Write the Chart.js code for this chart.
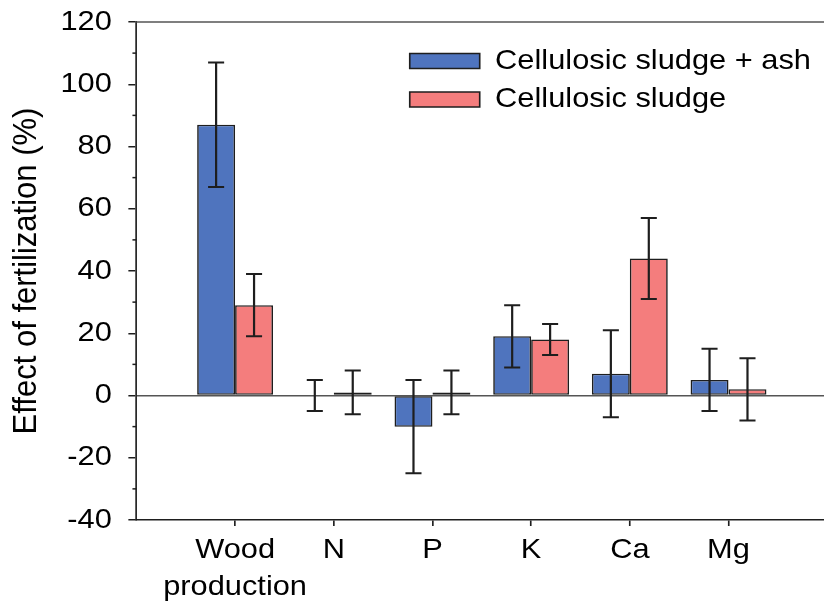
<!DOCTYPE html>
<html>
<head>
<meta charset="utf-8">
<script src="https://cdn.jsdelivr.net/npm/chart.js@4.4.1/dist/chart.umd.min.js"></script>
<style>
  html, body { margin: 0; padding: 0; background: #fff; overflow: hidden; }
  canvas { display: block; }
</style>
</head>
<body>
<canvas id="fertChart" width="824" height="603"></canvas>
<script>
// Response of wood production and foliar nutrients to fertilization
const categories = [['Wood', 'production'], 'N', 'P', 'K', 'Ca', 'Mg'];
const seriesNames = ['Cellulosic sludge + ash', 'Cellulosic sludge'];
const sludgeAsh = [87, 0, -10, 19, 7, 5];
const sludgeAshErr = [20, 5, 15, 10, 14, 10];
const sludge = [29, 1, 1, 18, 44, 2];
const sludgeErr = [10, 7, 7, 5, 13, 10];
const yTicks = [-40, -20, 0, 20, 40, 60, 80, 100, 120];

const SX = 1.1;        // lettering is set wide, so the drawing is stretched sideways
const CAP = 7.3;       // half width of the error bar caps
const INK = '#1e1e1e';

// one empty slot each side so the groups sit a full step in from the axes
const pad = arr => [null, ...arr, null];
const xLabels = ['', ...categories, ''];

Chart.defaults.font.family = '"Liberation Sans", Arial, sans-serif';
Chart.defaults.color = '#000';

const widen = {
  id: 'widen',
  beforeDraw(chart) { chart.ctx.save(); chart.ctx.scale(SX, 1); },
  afterDraw(chart) { chart.ctx.restore(); }
};

// park the legend in the upper right of the plot
const legendSpot = {
  id: 'legendSpot',
  afterLayout(chart) {
    chart.legend.left = 362;
    chart.legend.top = 36.5;
  }
};

// top frame line plus the short unlabelled ticks on the y axis
const frame = {
  id: 'frame',
  beforeDatasetsDraw(chart) {
    const { ctx, chartArea: a, scales: { y } } = chart;
    ctx.save();
    ctx.strokeStyle = '#555';
    ctx.lineWidth = 1.5;
    ctx.beginPath();
    ctx.moveTo(a.left, a.top);
    ctx.lineTo(a.right, a.top);
    ctx.stroke();
    ctx.strokeStyle = INK;
    for (let v = y.min + 10; v < y.max; v += 20) {
      const py = y.getPixelForValue(v);
      ctx.beginPath();
      ctx.moveTo(a.left - 3.6, py);
      ctx.lineTo(a.left, py);
      ctx.stroke();
    }
    ctx.restore();
  }
};

const errorBars = {
  id: 'errorBars',
  afterDatasetsDraw(chart) {
    const { ctx, scales: { y } } = chart;
    ctx.save();
    ctx.strokeStyle = INK;
    ctx.lineWidth = 2;
    chart.data.datasets.forEach((ds, di) => {
      chart.getDatasetMeta(di).data.forEach((bar, i) => {
        const v = ds.data[i];
        if (v == null) return;
        const hi = y.getPixelForValue(v + ds.errors[i]);
        const lo = y.getPixelForValue(v - ds.errors[i]);
        ctx.beginPath();
        ctx.moveTo(bar.x, hi); ctx.lineTo(bar.x, lo);
        ctx.moveTo(bar.x - CAP, hi); ctx.lineTo(bar.x + CAP, hi);
        ctx.moveTo(bar.x - CAP, lo); ctx.lineTo(bar.x + CAP, lo);
        ctx.stroke();
      });
    });
    ctx.restore();
  }
};

const barStyle = {
  borderColor: INK,
  borderWidth: 1.5,
  borderSkipped: false,
  categoryPercentage: 0.769,
  barPercentage: 1
};

new Chart(document.getElementById('fertChart'), {
  type: 'bar',
  data: {
    labels: xLabels,
    datasets: [
      { label: seriesNames[0], data: pad(sludgeAsh), errors: pad(sludgeAshErr), backgroundColor: '#4f74be', ...barStyle },
      { label: seriesNames[1], data: pad(sludge), errors: pad(sludgeErr), backgroundColor: '#f47d7d', ...barStyle }
    ]
  },
  options: {
    responsive: false,
    animation: false,
    devicePixelRatio: 1,
    layout: { autoPadding: false, padding: { top: 22, right: 72, bottom: 0, left: 0 } },
    scales: {
      x: {
        offset: false,
        afterFit(s) { s.height = 83; },
        grid: {
          offset: false,
          drawOnChartArea: false,
          tickLength: 6,
          tickWidth: 1.5,
          tickColor: c => (c.tick && c.tick.label === '' ? 'transparent' : INK)
        },
        border: { color: INK, width: 1.5 },
        ticks: { font: { size: 28, lineHeight: 1.32 }, padding: 6, maxRotation: 0, autoSkip: false }
      },
      y: {
        min: yTicks[0],
        max: yTicks[yTicks.length - 1],
        afterFit(s) {
          s.width = 124;
          // the top label may hang over the plot edge
          s.paddingTop = 0;
          s.paddingBottom = 0;
        },
        ticks: {
          stepSize: 10,
          padding: 15,
          font: { size: 28 },
          callback: v => (yTicks.includes(v) ? v : '')
        },
        grid: {
          tickLength: 7.3,
          tickWidth: 1.5,
          lineWidth: 1.5,
          color: c => (c.tick && c.tick.value === 0 ? '#555' : 'transparent'),
          tickColor: c => (c.tick && yTicks.includes(c.tick.value) ? INK : 'transparent')
        },
        border: { color: INK, width: 1.5 },
        title: {
          display: true,
          text: 'Effect of fertilization (%)',
          font: { size: 31 },
          padding: { top: 6, bottom: 0 }
        }
      }
    },
    plugins: {
      tooltip: { enabled: false },
      legend: {
        position: 'chartArea',
        align: 'start',
        labels: { boxWidth: 63.6, boxHeight: 15, padding: 10.5, font: { size: 28 } }
      }
    }
  },
  plugins: [widen, legendSpot, frame, errorBars]
});
</script>
</body>
</html>
